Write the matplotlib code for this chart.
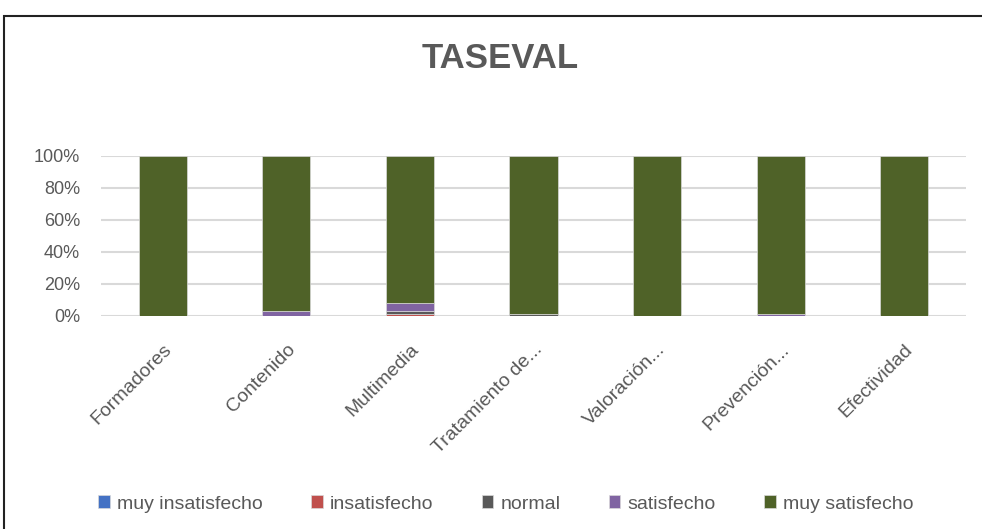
import matplotlib.pyplot as plt
from matplotlib.patches import Rectangle
import numpy as np

categories = ['Formadores', 'Contenido', 'Multimedia', 'Tratamiento de...',
              'Valoración...', 'Prevención...', 'Efectividad']
series_names = ['muy insatisfecho', 'insatisfecho', 'normal', 'satisfecho', 'muy satisfecho']
colors = ['#4472C4', '#C0504D', '#595959', '#8064A2', '#4F6228']

muy_insatisfecho = [0.0, 0.0, 0.0, 0.0, 0.0, 0.0, 0.0]
insatisfecho = [0.0, 0.0, 1.5, 0.0, 0.0, 0.0, 0.0]
normal = [0.0, 0.0, 1.5, 1.0, 0.0, 0.0, 0.0]
satisfecho = [0.0, 3.0, 5.0, 0.0, 0.0, 1.5, 0.0]
muy_satisfecho = [100 - a - b - c - d for a, b, c, d in
                  zip(muy_insatisfecho, insatisfecho, normal, satisfecho)]

series = [muy_insatisfecho, insatisfecho, normal, satisfecho, muy_satisfecho]

plt.rcParams['font.family'] = ['Liberation Sans', 'DejaVu Sans']

fig = plt.figure(figsize=(9.82, 5.29), dpi=100)
ax = fig.add_axes([101 / 982, 1 - 316 / 529, 865 / 982, 160 / 529])

x = np.arange(len(categories))
bottom = np.zeros(len(categories))
for name, vals, col in zip(series_names, series, colors):
    vals = np.array(vals) / 100.0
    ax.bar(x, vals, width=0.39, bottom=bottom, color=col, label=name,
           edgecolor='#d9d9d9', linewidth=0.5, zorder=3)
    bottom += vals

ax.set_xlim(-0.5, len(categories) - 0.5)
ax.set_ylim(0, 1)
ax.set_yticks(np.arange(0, 1.01, 0.2))
ax.set_yticklabels([f'{int(v * 100)}%' for v in np.arange(0, 1.01, 0.2)])
ax.grid(axis='y', color='#d9d9d9', linewidth=1.5, zorder=0)
for s in ax.spines.values():
    s.set_visible(False)
ax.tick_params(axis='both', length=0, labelsize=13, colors='#595959')
ax.tick_params(axis='y', pad=15)
ax.set_xticks(x)
ax.set_xticklabels(categories, rotation=45, ha='right', rotation_mode='anchor')
ax.tick_params(axis='x', pad=18, labelsize=14)

fig.text(0.509, 1 - 58 / 529, 'TASEVAL', ha='center', va='center',
         fontsize=25, fontweight='bold', color='#595959')

fig.legend(loc='center', bbox_to_anchor=(0.515, 1 - 504 / 529), ncol=5,
           frameon=False, fontsize=14, handlelength=0.6, handleheight=0.6,
           handletextpad=0.35, columnspacing=2.5, labelcolor='#595959')

fig.patches.append(Rectangle((4 / 982, -0.1), 1.2, 1 - 16 / 529 + 0.1,
                             transform=fig.transFigure, fill=False,
                             edgecolor='#222222', linewidth=1.5))

fig.savefig('out.png', dpi=100)
